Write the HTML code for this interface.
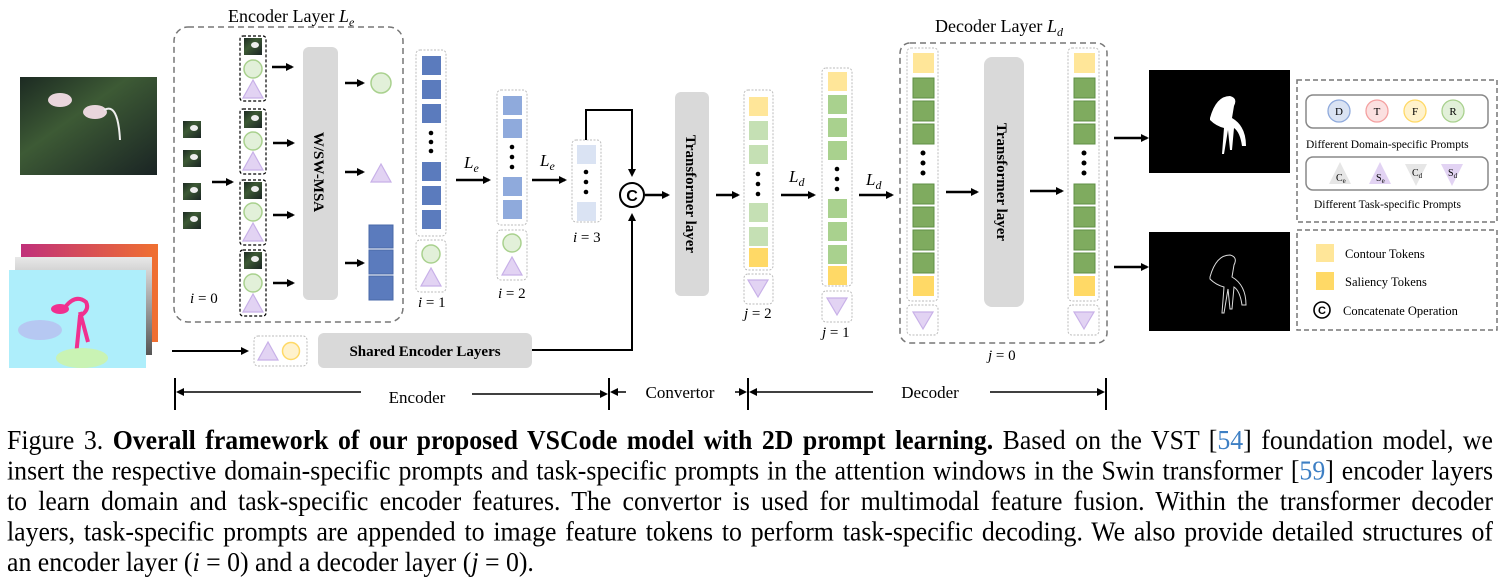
<!DOCTYPE html>
<html><head><meta charset="utf-8"><style>
html,body{margin:0;padding:0;background:#fff;}
body{width:1498px;height:586px;position:relative;overflow:hidden;font-family:"Liberation Serif",serif;}
svg{position:absolute;left:0;top:0;}
.cap{position:absolute;left:7px;top:425px;width:1486px;font-size:25.8px;line-height:29px;color:#000;transform:scaleY(1.05);transform-origin:0 0;}
.cap div{text-align:justify;text-align-last:justify;white-space:nowrap;}
.cap div.l{text-align-last:left;}
</style></head><body>
<svg width="1498" height="420" viewBox="0 0 1498 420" font-family="Liberation Serif, serif">
<defs>
<marker id="a" markerWidth="8" markerHeight="8" refX="6" refY="4" orient="auto" markerUnits="userSpaceOnUse"><path d="M0,0 L8,4 L0,8 z" fill="#000"/></marker>
<linearGradient id="ph" x1="0" y1="0" x2="1" y2="1"><stop offset="0" stop-color="#1c2a22"/><stop offset=".4" stop-color="#3d5a35"/><stop offset="1" stop-color="#1a2424"/></linearGradient>
<linearGradient id="or" x1="0" y1="0" x2="1" y2="0"><stop offset="0" stop-color="#c0307a"/><stop offset="1" stop-color="#f07030"/></linearGradient>
<linearGradient id="gr" x1="0" y1="0" x2="0" y2="1"><stop offset="0" stop-color="#e8e8e8"/><stop offset="1" stop-color="#555"/></linearGradient>
<g id="th"><rect width="18" height="17" fill="url(#ph)"/><ellipse cx="11" cy="7" rx="4" ry="3" fill="#eee"/></g>
<g id="tu"><path d="M0,-10 L-10,8 L10,8 z" fill="#e2d3f3" stroke="#c8b0e8" stroke-width="1.2"/></g>
<g id="td"><path d="M0,9 L-10,-8 L10,-8 z" fill="#e2d3f3" stroke="#c8b0e8" stroke-width="1.2"/></g>
<g id="ci"><circle r="9" fill="#e2f0d9" stroke="#a9d18e" stroke-width="1.5"/></g>
</defs>

<rect x="20" y="77" width="137" height="98" fill="url(#ph)"/>
<ellipse cx="60" cy="100" rx="12" ry="7" fill="#e9d6dc"/><ellipse cx="95" cy="112" rx="12" ry="7" fill="#e9d6dc"/>
<path d="M104,110 q14,-8 16,30" stroke="#eee" stroke-width="2" fill="none"/>
<rect x="21" y="244" width="137" height="98" fill="url(#or)"/>
<rect x="15" y="257" width="137" height="98" fill="url(#gr)"/>
<rect x="9" y="270" width="137" height="98" fill="#aeeefb"/>
<path d="M66,306 q10,-12 20,-4 q4,8 -6,14 l-4,40 M80,312 l8,30" stroke="#f0308f" stroke-width="4" fill="none"/>
<ellipse cx="60" cy="309" rx="9" ry="5" fill="#f0308f"/>
<ellipse cx="40" cy="330" rx="22" ry="10" fill="#b6c8f2"/>
<ellipse cx="82" cy="358" rx="26" ry="10" fill="#c9f3b4"/>

<text x="228" y="22" font-size="18">Encoder Layer <tspan font-style="italic">L</tspan><tspan font-style="italic" font-size="12" dy="4">e</tspan></text>
<rect x="174" y="27" width="229" height="295" rx="14" fill="none" stroke="#777" stroke-width="1.5" stroke-dasharray="6,4"/>
<use href="#th" x="183" y="121"/><use href="#th" x="183" y="150"/><use href="#th" x="183" y="183"/><use href="#th" x="183" y="212"/>
<line x1="212" y1="182" x2="232" y2="182" stroke="#000" stroke-width="2.5" marker-end="url(#a)"/>
<g stroke="#000" stroke-width="1.2" stroke-dasharray="3,2" fill="none">
<rect x="240" y="36" width="26" height="65" rx="3"/><rect x="240" y="109" width="26" height="65" rx="3"/><rect x="240" y="180" width="26" height="65" rx="3"/><rect x="240" y="250" width="26" height="66" rx="3"/></g>
<use href="#th" x="244" y="38"/><use href="#ci" x="253" y="69"/><use href="#tu" x="253" y="90"/>
<use href="#th" x="244" y="111"/><use href="#ci" x="253" y="141"/><use href="#tu" x="253" y="162"/>
<use href="#th" x="244" y="182"/><use href="#ci" x="253" y="212"/><use href="#tu" x="253" y="233"/>
<use href="#th" x="244" y="252"/><use href="#ci" x="253" y="283"/><use href="#tu" x="253" y="304"/>
<g stroke="#000" stroke-width="2.5" marker-end="url(#a)">
<line x1="272" y1="67" x2="292" y2="67"/><line x1="273" y1="143" x2="293" y2="143"/><line x1="273" y1="215" x2="293" y2="215"/><line x1="273" y1="283" x2="293" y2="283"/>
<line x1="345" y1="83" x2="363" y2="83"/><line x1="345" y1="172" x2="363" y2="172"/><line x1="345" y1="263" x2="363" y2="263"/>
</g>
<rect x="303" y="47" width="35" height="253" rx="6" fill="#d9d9d9"/>
<text transform="translate(314,172) rotate(90)" font-size="15" font-weight="bold" text-anchor="middle">W/SW-MSA</text>
<circle cx="381" cy="83" r="10" fill="#e2f0d9" stroke="#a9d18e" stroke-width="1.5"/>
<use href="#tu" x="381" y="174"/>
<g fill="#5b7bbd" stroke="#4a68a8"><rect x="369" y="225" width="24" height="23"/><rect x="369" y="250" width="24" height="24"/><rect x="369" y="276" width="24" height="24"/></g>
<text x="190" y="303" font-size="15" font-style="italic">i</text><text x="198" y="303" font-size="15"> = 0</text>

<g fill="none" stroke="#bbb" stroke-dasharray="2,1.5"><rect x="416" y="50" width="30" height="186" rx="4"/><rect x="416" y="240" width="30" height="52" rx="4"/>
<rect x="497" y="90" width="30" height="135" rx="4"/><rect x="497" y="230" width="30" height="50" rx="4"/>
<rect x="572" y="140" width="29" height="82" rx="4"/>
<rect x="744" y="90" width="29" height="180" rx="4"/><rect x="744" y="274" width="29" height="30" rx="4"/>
<rect x="822" y="68" width="30" height="218" rx="4"/><rect x="822" y="291" width="30" height="31" rx="4"/>
<rect x="907" y="48" width="31" height="253" rx="4"/><rect x="907" y="305" width="31" height="30" rx="4"/>
<rect x="1068" y="48" width="31" height="253" rx="4"/><rect x="1068" y="305" width="31" height="30" rx="4"/>
<rect x="254" y="336" width="53" height="30" rx="4"/></g>
<g fill="#5b7bbd"><rect x="422" y="56" width="19" height="19"/><rect x="422" y="80" width="19" height="19"/><rect x="422" y="104" width="19" height="19"/><rect x="422" y="162" width="19" height="19"/><rect x="422" y="186" width="19" height="19"/><rect x="422" y="210" width="19" height="19"/></g>
<g fill="#000"><circle cx="431" cy="133" r="2.3"/><circle cx="431" cy="142" r="2.3"/><circle cx="431" cy="151" r="2.3"/>
<circle cx="512" cy="147" r="2.3"/><circle cx="512" cy="157" r="2.3"/><circle cx="512" cy="167" r="2.3"/>
<circle cx="586" cy="172" r="2.3"/><circle cx="586" cy="182" r="2.3"/><circle cx="586" cy="192" r="2.3"/></g>
<use href="#ci" x="431" y="254"/><use href="#tu" x="431" y="278"/>
<text x="418" y="307" font-size="15"><tspan font-style="italic">i</tspan> = 1</text>
<line x1="456" y1="180" x2="489" y2="180" stroke="#000" stroke-width="2.5" marker-end="url(#a)"/>
<text x="464" y="168" font-size="17" font-style="italic">L<tspan font-size="12" dy="4">e</tspan></text>
<g fill="#8faadc"><rect x="503" y="96" width="19" height="19"/><rect x="503" y="119" width="19" height="19"/><rect x="503" y="177" width="19" height="19"/><rect x="503" y="200" width="19" height="19"/></g>
<use href="#ci" x="512" y="243"/><use href="#tu" x="512" y="267"/>
<text x="498" y="298" font-size="15"><tspan font-style="italic">i</tspan> = 2</text>
<line x1="532" y1="180" x2="565" y2="180" stroke="#000" stroke-width="2.5" marker-end="url(#a)"/>
<text x="540" y="166" font-size="17" font-style="italic">L<tspan font-size="12" dy="4">e</tspan></text>
<g fill="#dae3f3"><rect x="577" y="145" width="19" height="19"/><rect x="577" y="202" width="19" height="19"/></g>
<text x="573" y="242" font-size="15"><tspan font-style="italic">i</tspan> = 3</text>
<polyline points="586,140 586,110 632,110 632,175" fill="none" stroke="#000" stroke-width="2" marker-end="url(#a)"/>
<circle cx="632" cy="195" r="12" fill="#fff" stroke="#000" stroke-width="2"/>
<text x="632" y="201" font-size="16" font-weight="bold" text-anchor="middle" font-family="Liberation Sans, sans-serif">C</text>
<line x1="172" y1="351" x2="247" y2="351" stroke="#000" stroke-width="2" marker-end="url(#a)"/>
<use href="#tu" x="268" y="352"/><circle cx="291" cy="351" r="8.5" fill="#fff2cc" stroke="#ffd966" stroke-width="1.5"/>
<rect x="318" y="333" width="214" height="35" rx="6" fill="#d9d9d9"/>
<text x="425" y="356" font-size="15" font-weight="bold" text-anchor="middle">Shared Encoder Layers</text>
<polyline points="532,350 632,350 632,215" fill="none" stroke="#000" stroke-width="2" marker-end="url(#a)"/>
<line x1="645" y1="195" x2="668" y2="195" stroke="#000" stroke-width="2.5" marker-end="url(#a)"/>

<rect x="675" y="92" width="34" height="204" rx="6" fill="#d9d9d9"/>
<text transform="translate(686,194) rotate(90)" font-size="15" font-weight="bold" text-anchor="middle">Transformer layer</text>
<line x1="716" y1="195" x2="738" y2="195" stroke="#000" stroke-width="2.5" marker-end="url(#a)"/>
<rect x="749" y="97" width="19" height="19" fill="#ffe699"/>
<g fill="#c5e0b4"><rect x="749" y="121" width="19" height="19"/><rect x="749" y="145" width="19" height="19"/><rect x="749" y="203" width="19" height="19"/><rect x="749" y="227" width="19" height="19"/></g>
<rect x="749" y="248" width="19" height="19" fill="#ffd966"/>
<g fill="#000"><circle cx="758" cy="174" r="2.3"/><circle cx="758" cy="184" r="2.3"/><circle cx="758" cy="194" r="2.3"/></g>
<use href="#td" x="758" y="288"/>
<text x="744" y="318" font-size="15"><tspan font-style="italic">j</tspan> = 2</text>
<line x1="781" y1="195" x2="814" y2="195" stroke="#000" stroke-width="2.5" marker-end="url(#a)"/>
<text x="789" y="182" font-size="17" font-style="italic">L<tspan font-size="12" dy="4">d</tspan></text>
<rect x="828" y="72" width="19" height="19" fill="#ffe699"/>
<g fill="#a9d18e"><rect x="828" y="95" width="19" height="19"/><rect x="828" y="118" width="19" height="19"/><rect x="828" y="141" width="19" height="19"/><rect x="828" y="199" width="19" height="19"/><rect x="828" y="222" width="19" height="19"/><rect x="828" y="245" width="19" height="19"/></g>
<rect x="828" y="266" width="19" height="19" fill="#ffd966"/>
<g fill="#000"><circle cx="837" cy="169" r="2.3"/><circle cx="837" cy="179" r="2.3"/><circle cx="837" cy="189" r="2.3"/></g>
<use href="#td" x="837" y="306"/>
<text x="822" y="337" font-size="15"><tspan font-style="italic">j</tspan> = 1</text>
<line x1="859" y1="195" x2="892" y2="195" stroke="#000" stroke-width="2.5" marker-end="url(#a)"/>
<text x="866" y="185" font-size="17" font-style="italic">L<tspan font-size="12" dy="4">d</tspan></text>

<text x="935" y="32" font-size="18">Decoder Layer <tspan font-style="italic">L</tspan><tspan font-style="italic" font-size="12" dy="4">d</tspan></text>
<rect x="900" y="43" width="207" height="300" rx="10" fill="none" stroke="#777" stroke-width="1.5" stroke-dasharray="6,4"/>
<g id="dc">
<rect x="913" y="53" width="21" height="20" fill="#ffe699"/>
<g fill="#7fab5f" stroke="#5f8f44"><rect x="913" y="78" width="21" height="20"/><rect x="913" y="101" width="21" height="20"/><rect x="913" y="124" width="21" height="20"/><rect x="913" y="184" width="21" height="20"/><rect x="913" y="207" width="21" height="20"/><rect x="913" y="230" width="21" height="20"/><rect x="913" y="253" width="21" height="20"/></g>
<rect x="913" y="276" width="21" height="20" fill="#ffd966"/>
<g fill="#000"><circle cx="923" cy="153" r="2.5"/><circle cx="923" cy="163" r="2.5"/><circle cx="923" cy="173" r="2.5"/></g>
<use href="#td" x="923" y="320"/>
</g>
<use href="#dc" x="161" y="0"/>
<line x1="946" y1="192" x2="977" y2="192" stroke="#000" stroke-width="2.5" marker-end="url(#a)"/>
<rect x="984" y="57" width="40" height="250" rx="8" fill="#d9d9d9"/>
<text transform="translate(997,182) rotate(90)" font-size="15" font-weight="bold" text-anchor="middle">Transformer layer</text>
<line x1="1030" y1="191" x2="1062" y2="191" stroke="#000" stroke-width="2.5" marker-end="url(#a)"/>
<text x="988" y="360" font-size="15"><tspan font-style="italic">j</tspan> = 0</text>

<line x1="1114" y1="138" x2="1147" y2="138" stroke="#000" stroke-width="2.5" marker-end="url(#a)"/>
<line x1="1114" y1="267" x2="1147" y2="267" stroke="#000" stroke-width="2.5" marker-end="url(#a)"/>
<rect x="1149" y="70" width="141" height="103" fill="#000"/>
<path d="M1210,118 q6,-22 20,-22 q8,2 4,10 l-2,12 q14,8 14,28 l-4,0 q-2,-14 -8,-18 l-2,22 l-2,0 l-2,-20 l-4,24 l-2,0 l2,-26 q-8,-2 -14,-8 z" fill="#fff"/>
<rect x="1149" y="232" width="141" height="99" fill="#000"/>
<path d="M1210,277 q6,-22 20,-22 q8,2 4,10 l-2,12 q14,8 14,28 l-4,0 q-2,-14 -8,-18 l-2,22 l-2,0 l-2,-20 l-4,24 l-2,0 l2,-26 q-8,-2 -14,-8 z" fill="none" stroke="#ddd" stroke-width="1"/>

<rect x="1297" y="80" width="200" height="142" fill="none" stroke="#777" stroke-width="1.5" stroke-dasharray="5,3"/>
<rect x="1306" y="95" width="182" height="33" rx="7" fill="#fff" stroke="#888" stroke-width="1.5"/>
<g font-size="11" text-anchor="middle">
<circle cx="1339" cy="111" r="11" fill="#dae3f3" stroke="#8faadc" stroke-width="1.3"/><text x="1339" y="115">D</text>
<circle cx="1377" cy="111" r="11" fill="#fbe0e0" stroke="#f4a0a0" stroke-width="1.3"/><text x="1377" y="115">T</text>
<circle cx="1415" cy="111" r="11" fill="#fff2cc" stroke="#ffd966" stroke-width="1.3"/><text x="1415" y="115">F</text>
<circle cx="1453" cy="111" r="11" fill="#e2f0d9" stroke="#a9d18e" stroke-width="1.3"/><text x="1453" y="115">R</text>
</g>
<text x="1306" y="148" font-size="11.5">Different Domain-specific Prompts</text>
<rect x="1306" y="157" width="182" height="33" rx="7" fill="#fff" stroke="#888" stroke-width="1.5"/>
<path d="M1340,162 L1329,184 L1351,184 z" fill="#e6e6e6"/>
<path d="M1380,162 L1369,184 L1391,184 z" fill="#e2d3f3"/>
<path d="M1416,186 L1405,164 L1427,164 z" fill="#e6e6e6"/>
<path d="M1452,186 L1441,164 L1463,164 z" fill="#e2d3f3"/>
<g font-size="10"><text x="1336" y="181">C<tspan font-size="7" dy="2">e</tspan></text><text x="1376" y="181">S<tspan font-size="7" dy="2">e</tspan></text><text x="1412" y="176">C<tspan font-size="7" dy="2">d</tspan></text><text x="1448" y="176">S<tspan font-size="7" dy="2">d</tspan></text></g>
<text x="1314" y="208" font-size="11.5">Different Task-specific Prompts</text>
<rect x="1297" y="230" width="200" height="100" fill="none" stroke="#777" stroke-width="1.5" stroke-dasharray="5,3"/>
<rect x="1316" y="244" width="18" height="18" fill="#ffe699"/><text x="1345" y="258" font-size="12.5">Contour Tokens</text>
<rect x="1316" y="272" width="18" height="18" fill="#ffd966"/><text x="1345" y="286" font-size="12.5">Saliency Tokens</text>
<circle cx="1322" cy="310" r="8" fill="#fff" stroke="#000" stroke-width="1.6"/><text x="1322" y="314" font-size="11" font-weight="bold" text-anchor="middle" font-family="Liberation Sans, sans-serif">C</text>
<text x="1343" y="315" font-size="12.5">Concatenate Operation</text>

<g stroke="#000" stroke-width="2"><line x1="175" y1="378" x2="175" y2="410"/><line x1="609" y1="378" x2="609" y2="410"/><line x1="748" y1="378" x2="748" y2="410"/><line x1="1106" y1="378" x2="1106" y2="410"/></g>
<g stroke="#000" stroke-width="1.5" marker-end="url(#a)">
<line x1="361" y1="392" x2="178" y2="392"/><line x1="472" y1="394" x2="606" y2="394"/>
<line x1="626" y1="392" x2="612" y2="392"/><line x1="735" y1="392" x2="745" y2="392"/>
<line x1="873" y1="392" x2="751" y2="392"/><line x1="990" y1="392" x2="1103" y2="392"/>
</g>
<text x="417" y="403" font-size="17" text-anchor="middle">Encoder</text>
<text x="680" y="398" font-size="17" text-anchor="middle">Convertor</text>
<text x="930" y="398" font-size="17" text-anchor="middle">Decoder</text>
</svg>
<div class="cap">
<div>Figure 3. <b>Overall framework of our proposed VSCode model with 2D prompt learning.</b> Based on the VST [<span style="color:#3d7fc4">54</span>] foundation model, we</div>
<div>insert the respective domain-specific prompts and task-specific prompts in the attention windows in the Swin transformer [<span style="color:#3d7fc4">59</span>] encoder layers</div>
<div>to learn domain and task-specific encoder features. The convertor is used for multimodal feature fusion. Within the transformer decoder</div>
<div>layers, task-specific prompts are appended to image feature tokens to perform task-specific decoding. We also provide detailed structures of</div>
<div class="l">an encoder layer (<i>i</i> = 0) and a decoder layer (<i>j</i> = 0).</div>
</div>
</body></html>
